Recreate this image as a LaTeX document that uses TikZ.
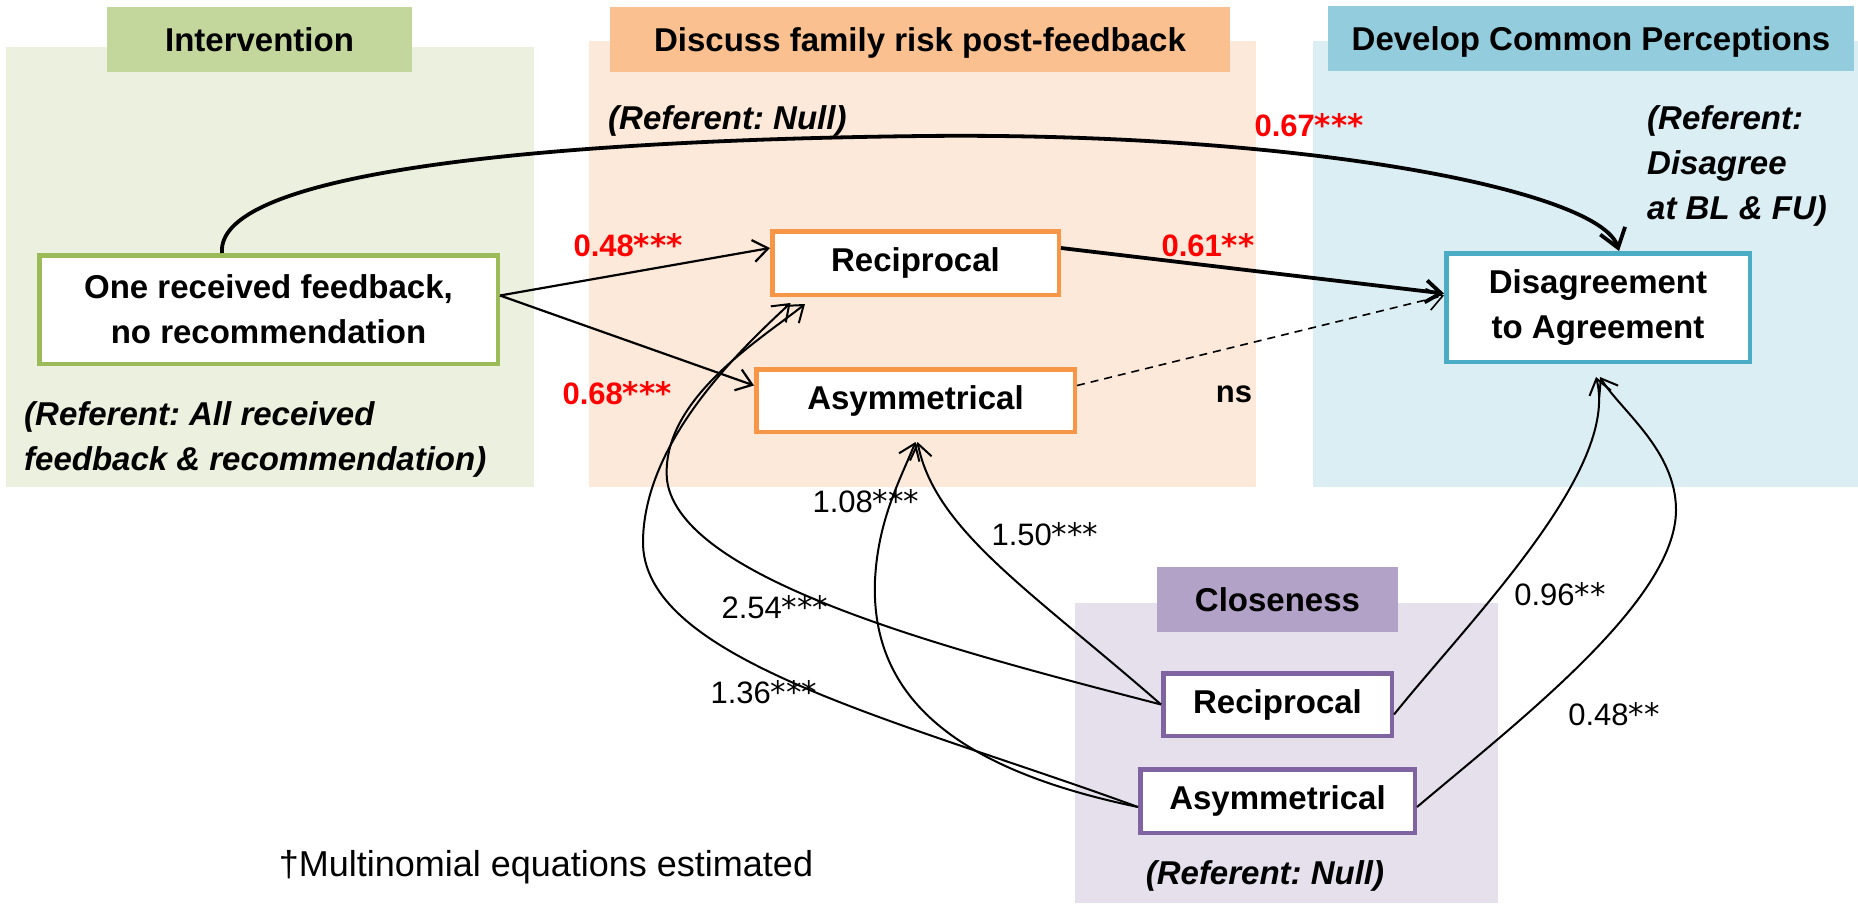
\documentclass[tikz,border=0pt]{standalone}
\usepackage{fontspec}
\setmainfont{Liberation Sans}
\newfontfamily\astfont{DejaVu Sans}
\usetikzlibrary{arrows.meta}
\definecolor{gpanel}{HTML}{EBF1DE}
\definecolor{gtitle}{HTML}{C3D69B}
\definecolor{gline}{HTML}{9BBB59}
\definecolor{opanel}{HTML}{FDE9D9}
\definecolor{otitle}{HTML}{FAC090}
\definecolor{oline}{HTML}{F79646}
\definecolor{bpanel}{HTML}{DBEEF4}
\definecolor{btitle}{HTML}{93CDDD}
\definecolor{bline}{HTML}{4BACC6}
\definecolor{ppanel}{HTML}{E5E0EC}
\definecolor{ptitle}{HTML}{B3A2C7}
\definecolor{pline}{HTML}{8064A2}
\definecolor{sigred}{HTML}{FF0000}
\newcommand\stars[1]{{\astfont #1}}
\frenchspacing
\begin{document}
\begin{tikzpicture}[x=1pt,y=-1pt,>={Straight Barb[length=15pt,width=22pt]},
  ttl/.style={inner sep=0pt, font=\fontsize{33}{40}\selectfont\bfseries, text height=24pt, text depth=0pt},
  box/.style={draw, fill=white, line width=4.5pt, inner sep=0pt, align=center, font=\fontsize{33}{45}\selectfont\bfseries},
  refnote/.style={inner sep=0pt, align=left, font=\fontsize{33}{45}\selectfont\bfseries\itshape},
  rlbl/.style={inner sep=0pt, anchor=base, text=sigred, font=\fontsize{31}{31}\selectfont\bfseries},
  lbl/.style={inner sep=0pt, anchor=base, font=\fontsize{31}{31}\selectfont},
  conn/.style={->, line width=2.2pt},
  boldconn/.style={-{Straight Barb[length=18pt,width=26pt]}, line width=3.8pt},
  curve/.style={->, line width=2pt},
]
\fill[white] (0,0) rectangle (1858,903);
\useasboundingbox (0,0) rectangle (1858,903);

% panels
\fill[gpanel] (6,47) rectangle (534,487);
\fill[opanel] (589,41) rectangle (1256,487);
\fill[bpanel] (1313,41) rectangle (1858,487);
\fill[ppanel] (1075,603) rectangle (1498,903);

% panel titles
\node[ttl, fill=gtitle, minimum width=305pt, minimum height=65pt] (tint) at (259.5,39.5) {Intervention};
\node[ttl, fill=otitle, minimum width=620pt, minimum height=65pt] (tdis) at (920,39.5) {Discuss family risk post-feedback};
\node[ttl, fill=btitle, minimum width=526pt, minimum height=65pt] (tdev) at (1591,38.5) {Develop Common Perceptions};
\node[ttl, fill=ptitle, minimum width=241pt, minimum height=65pt] (tclo) at (1277.5,599.5) {Closeness};

% boxes
\node[box, draw=gline, minimum width=458.5pt, minimum height=108.5pt] (one) at (268.5,309.5) {One received feedback,\\no recommendation};
\node[box, draw=oline, minimum width=286.5pt, minimum height=63.5pt] (orec) at (915.5,263) {Reciprocal};
\node[box, draw=oline, minimum width=318.5pt, minimum height=62.5pt] (oasym) at (915.5,400.5) {Asymmetrical};
\node[box, draw=bline, minimum width=303.5pt, minimum height=108.5pt] (dis) at (1598,307.5) {Disagreement\\to Agreement};
\node[box, draw=pline, minimum width=228.5pt, minimum height=62.5pt] (prec) at (1277.5,704.5) {Reciprocal};
\node[box, draw=pline, minimum width=274.5pt, minimum height=63.5pt] (pasym) at (1277.5,801) {Asymmetrical};

% referent notes
\node[refnote, anchor=north west] (rg) at (24,401) {(Referent: All received\\feedback \& recommendation)};
\node[refnote, anchor=base west] (ro) at (608,129) {(Referent: Null)};
\node[refnote, anchor=north west] (rb) at (1647,105) {(Referent:\\Disagree\\at BL \& FU)};
\node[refnote, anchor=base] (rp) at (1265,884) {(Referent: Null)};

% connectors
\draw[boldconn] ([xshift=-46.5pt]one.north) .. controls (215,170) and (560,140) .. (924,136)
   .. controls (1300,132) and (1600,190) .. ([xshift=21pt]dis.north);
\draw[conn] ([yshift=14pt]one.east) -- ([yshift=15pt]orec.west);
\draw[conn] ([yshift=14pt]one.east) -- ([yshift=15pt]oasym.west);
\draw[boldconn, -{Straight Barb[length=15pt,width=22pt]}] ([yshift=15pt]orec.east) -- ([yshift=14pt]dis.west);
\draw[->, line width=1.6pt, dash pattern=on 8pt off 6pt] ([yshift=15pt]oasym.east) -- ([yshift=12pt]dis.west);

\draw[curve] (prec.west) .. controls (950,650) and (680,580) .. (667,480)
   .. controls (660,400) and (760,340) .. ([xshift=-110.5pt,yshift=-7pt]orec.south);
\draw[curve] ([yshift=-6pt]pasym.west) .. controls (900,720) and (640,660) .. (643,540)
   .. controls (645,440) and (740,350) .. ([xshift=-125pt,yshift=-6pt]orec.south);
\draw[curve] (prec.west) .. controls (1030,590) and (935,530) .. ([xshift=2pt,yshift=-8pt]oasym.south);
\draw[curve] ([yshift=-6pt]pasym.west) .. controls (960,770) and (870,700) .. (875,580)
   .. controls (878,520) and (900,480) .. ([yshift=-8pt]oasym.south);
\draw[curve] ([yshift=-10pt]prec.east) .. controls (1470,620) and (1620,470) .. ([xshift=-2pt,yshift=-13pt]dis.south);
\draw[curve] ([yshift=-6pt]pasym.east) .. controls (1520,720) and (1676,600) .. (1676,510)
   .. controls (1676,450) and (1620,410) .. ([xshift=2pt,yshift=-13pt]dis.south);

% coefficient labels
\node[rlbl] (c1) at (628,256) {0.48\stars{***}};
\node[rlbl] (c2) at (617,404) {0.68\stars{***}};
\node[rlbl] (c3) at (1208,256) {0.61\stars{**}};
\node[rlbl] (c4) at (1309,136) {0.67\stars{***}};
\node[lbl, font=\fontsize{31}{31}\selectfont\bfseries] (c5) at (1234,402) {ns};
\node[lbl] (c6) at (866,512) {1.08\stars{***}};
\node[lbl] (c7) at (1045,545) {1.50\stars{***}};
\node[lbl] (c8) at (775,618) {2.54\stars{***}};
\node[lbl] (c9) at (764,703) {1.36\stars{***}};
\node[lbl] (c10) at (1560,605) {0.96\stars{**}};
\node[lbl] (c11) at (1614,725) {0.48\stars{**}};

\node[inner sep=0pt, anchor=base, font=\fontsize{36}{36}\selectfont] (foot) at (546,876) {\textdagger Multinomial equations estimated};
\end{tikzpicture}
\end{document}
